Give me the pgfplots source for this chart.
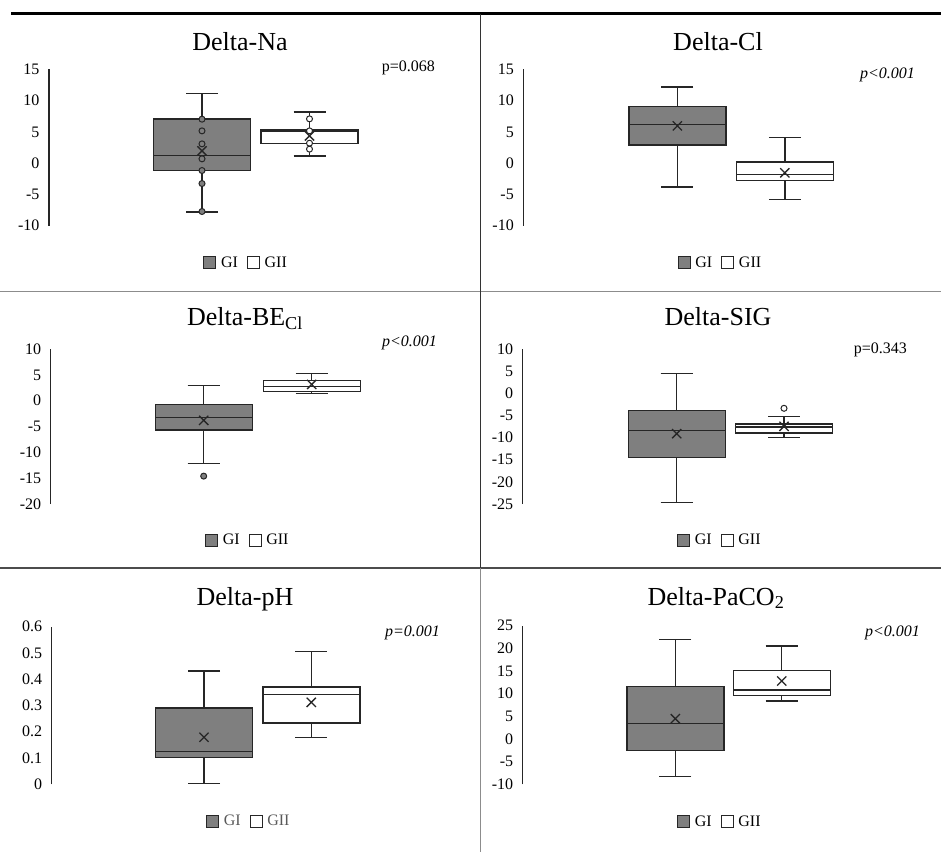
\documentclass[border=0pt]{standalone}
\usepackage{fontspec}
\setmainfont{Liberation Serif}
\usepackage{pgfplots}
\pgfplotsset{compat=1.18}
\usepgfplotslibrary{statistics}
\definecolor{gI}{HTML}{7F7F7F}
\definecolor{ln}{HTML}{262626}
\pgfplotsset{
  panel/.style={
    scale only axis, width=415pt, xmin=0, xmax=4.15,
    hide x axis, axis y line*=left,
    y axis line style={ln, line width=1.3pt, -},
    ytick style={draw=none},
    yticklabel style={font=\fontsize{16}{18}\selectfont, xshift=-6pt},
    clip=false,
    legend columns=2,
    legend style={draw=none, fill=none, at={(axis description cs:0.475,-0.235)}, anchor=center,
      font=\fontsize{16}{18}\selectfont,
      /tikz/every even column/.append style={column sep=7pt}},
    legend image code/.code={\draw[#1, line width=1pt] (0pt,-6pt) rectangle (12pt,6pt); \path (15pt,0pt);},
    boxplot/draw direction=y,
    boxplot/box extend=0.97, boxplot/whisker extend=0.32,
  },
  gone/.style={forget plot, draw=ln, fill=gI, line width=1.4pt},
  gtwo/.style={forget plot, draw=ln, fill=white, line width=1.4pt},
  meanx/.style={forget plot, only marks, mark=x, mark size=6.5pt, mark options={ln, line width=1.3pt}},
  ptI/.style={forget plot, only marks, mark=*, mark size=3pt, mark options={fill=gI, draw=ln, line width=1pt}},
  ptII/.style={forget plot, only marks, mark=*, mark size=3pt, mark options={fill=white, draw=ln, line width=1pt}},
}
\newcommand{\legGG}{%
  \addlegendimage{fill=gI, draw=ln}\addlegendentry{GI}
  \addlegendimage{fill=white, draw=ln}\addlegendentry{GII}}
\begin{document}
\begin{tikzpicture}
\path[use as bounding box] (0pt,0pt) rectangle (941pt,-852pt);
% frame lines
\draw[black, line width=2.6pt] (11pt,-13.5pt) -- (941pt,-13.5pt);
\draw[black!45, line width=1.5pt] (0pt,-291.5pt) -- (941pt,-291.5pt);
\draw[black!70, line width=1.2pt] (0pt,-568pt) -- (941pt,-568pt);
\draw[black!80, line width=1pt] (480.3pt,-13.5pt) -- (480.3pt,-568pt);
\draw[black!45, line width=1pt] (480.3pt,-568pt) -- (480.3pt,-852pt);
% titles
\begin{scope}[every node/.style={font=\fontsize{26}{30}\selectfont, anchor=base, inner sep=0pt}]
\node at (240pt,-50pt) {Delta-Na};
\node at (718pt,-50pt) {Delta-Cl};
\node at (245pt,-325pt) {Delta-BE\textsubscript{Cl}};
\node at (718pt,-325pt) {Delta-SIG};
\node at (245pt,-605pt) {Delta-pH};
\node at (716pt,-605pt) {Delta-PaCO\textsubscript{2}};
\end{scope}
% p values
\begin{scope}[every node/.style={font=\fontsize{16}{18}\selectfont, anchor=east, inner sep=0pt}]
\node at (435pt,-68pt) {p=0.068};
\node at (915pt,-75pt) {\itshape p<0.001};
\node at (437pt,-343pt) {\itshape p<0.001};
\node at (907pt,-350pt) {p=0.343};
\node at (440pt,-633pt) {\itshape p=0.001};
\node at (920pt,-633pt) {\itshape p<0.001};
\end{scope}

% Panel 1: Delta-Na
\begin{axis}[panel, at={(49pt,-225.7pt)}, anchor=south west, height=156.4pt,
  ymin=-10, ymax=15, ytick={-10,-5,0,5,10,15}, yticklabels={-10,-5,0,5,10,15}]
\addplot[gone, boxplot prepared={draw position=1.53, lower whisker=-7.83, lower quartile=-1.18, median=1.2, upper quartile=7.08, upper whisker=11.1}] coordinates {};
\addplot[gtwo, boxplot prepared={draw position=2.605, lower whisker=1.17, lower quartile=3.13, median=5.1, upper quartile=5.3, upper whisker=8.19}] coordinates {};
\addplot[meanx] coordinates {(1.53,1.96) (2.605,4.36)};
\addplot[ptI] coordinates {(1.53,7.03) (1.53,5.16) (1.53,3.08) (1.53,0.69) (1.53,-1.18) (1.53,-3.26) (1.53,-7.73)};
\addplot[ptII] coordinates {(2.605,7.08) (2.605,5.16) (2.605,3.19) (2.605,2.24)};
\legGG
\end{axis}

% Panel 2: Delta-Cl
\begin{axis}[panel, at={(523.3pt,-225.7pt)}, anchor=south west, height=156.4pt,
  ymin=-10, ymax=15, ytick={-10,-5,0,5,10,15}, yticklabels={-10,-5,0,5,10,15}]
\addplot[gone, boxplot prepared={draw position=1.54, lower whisker=-3.79, lower quartile=2.92, median=6.17, upper quartile=9.1, upper whisker=12.14}] coordinates {};
\addplot[gtwo, boxplot prepared={draw position=2.615, lower whisker=-5.81, lower quartile=-2.78, median=-1.82, upper quartile=0.16, upper whisker=4.09}] coordinates {};
\addplot[meanx] coordinates {(1.54,5.96) (2.615,-1.55)};
\legGG
\end{axis}

% Panel 3: Delta-BE_Cl
\begin{axis}[panel, at={(50.7pt,-504pt)}, anchor=south west, height=155pt,
  ymin=-20, ymax=10, ytick={-20,-15,-10,-5,0,5,10}, yticklabels={-20,-15,-10,-5,0,5,10}]
\addplot[gone, boxplot prepared={draw position=1.53, lower whisker=-12.2, lower quartile=-5.69, median=-3.23, upper quartile=-0.79, upper whisker=2.96}] coordinates {};
\addplot[gtwo, boxplot prepared={draw position=2.61, lower whisker=1.41, lower quartile=1.8, median=2.7, upper quartile=3.86, upper whisker=5.28}] coordinates {};
\addplot[meanx] coordinates {(1.53,-3.81) (2.61,3.15)};
\addplot[ptI] coordinates {(1.53,-14.6)};
\legGG
\end{axis}

% Panel 4: Delta-SIG
\begin{axis}[panel, at={(522.7pt,-504pt)}, anchor=south west, height=155pt,
  ymin=-25, ymax=10, ytick={-25,-20,-15,-10,-5,0,5,10}, yticklabels={-25,-20,-15,-10,-5,0,5,10}]
\addplot[gone, boxplot prepared={draw position=1.54, lower whisker=-24.6, lower quartile=-14.45, median=-8.44, upper quartile=-3.84, upper whisker=4.43}] coordinates {};
\addplot[gtwo, boxplot prepared={draw position=2.613, lower whisker=-9.94, lower quartile=-8.97, median=-7.61, upper quartile=-6.93, upper whisker=-5.2}] coordinates {};
\addplot[meanx] coordinates {(1.54,-9.12) (2.613,-7.46)};
\addplot[ptII] coordinates {(2.613,-3.39)};
\legGG
\end{axis}

% Panel 5: Delta-pH
\begin{axis}[panel, at={(51.7pt,-784.3pt)}, anchor=south west, height=157.6pt,
  ymin=0, ymax=0.6, ytick={0,0.1,0.2,0.3,0.4,0.5,0.6}, yticklabels={0,0.1,0.2,0.3,0.4,0.5,0.6},
  legend style={text=black!65}]
\addplot[gone, boxplot prepared={draw position=1.523, lower whisker=0.004, lower quartile=0.101, median=0.1255, upper quartile=0.290, upper whisker=0.431}] coordinates {};
\addplot[gtwo, boxplot prepared={draw position=2.596, lower whisker=0.179, lower quartile=0.234, median=0.341, upper quartile=0.371, upper whisker=0.506}] coordinates {};
\addplot[meanx] coordinates {(1.523,0.179) (2.596,0.312)};
\legGG
\end{axis}

% Panel 6: Delta-PaCO2
\begin{axis}[panel, at={(522.7pt,-784.3pt)}, anchor=south west, height=158.6pt,
  ymin=-10, ymax=25, ytick={-10,-5,0,5,10,15,20,25}, yticklabels={-10,-5,0,5,10,15,20,25}]
\addplot[gone, boxplot prepared={draw position=1.526, lower whisker=-8.31, lower quartile=-2.5, median=3.38, upper quartile=11.6, upper whisker=21.9}] coordinates {};
\addplot[gtwo, boxplot prepared={draw position=2.59, lower whisker=8.38, lower quartile=9.63, median=10.8, upper quartile=15.07, upper whisker=20.5}] coordinates {};
\addplot[meanx] coordinates {(1.526,4.48) (2.59,12.8)};
\legGG
\end{axis}
\end{tikzpicture}
\end{document}
